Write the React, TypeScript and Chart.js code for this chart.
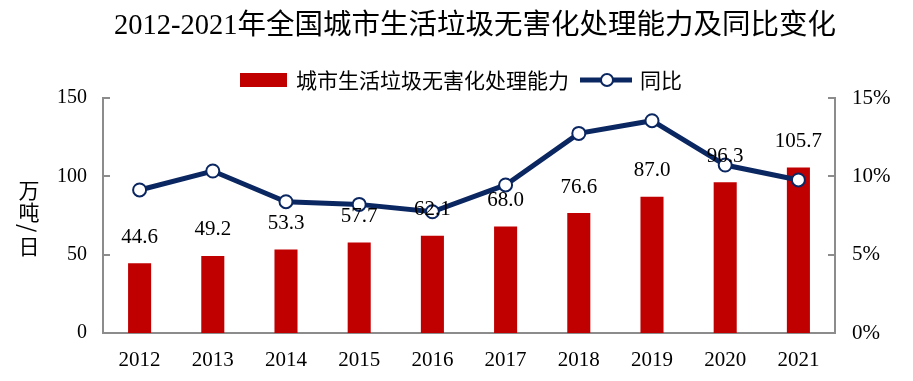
import React, { useEffect, useRef } from 'react';
import { Chart, registerables } from 'chart.js';

Chart.register(...registerables);

const years = ['2012', '2013', '2014', '2015', '2016', '2017', '2018', '2019', '2020', '2021'];
const capacity = [44.6, 49.2, 53.3, 57.7, 62.1, 68.0, 76.6, 87.0, 96.3, 105.7];
const yoy = [9.13, 10.34, 8.38, 8.21, 7.74, 9.45, 12.74, 13.55, 10.72, 9.77];
const leftTicks = [0, 50, 100, 150];
const rightTicks = [0, 5, 10, 15];
const titleText = '2012-2021年全国城市生活垃圾无害化处理能力及同比变化';
const barLabel = '城市生活垃圾无害化处理能力';
const lineLabel = '同比';
const yTitleChars = ['万', '吨', '/', '日'];

const RED = '#C00000';
const NAVY = '#0B2762';
const AXIS = '#8C8C8C';
const SERIF = '"Liberation Serif", "Times New Roman", "Noto Sans CJK SC", serif';
const SANS = '"Noto Sans CJK SC", "Noto Sans", sans-serif';

const decorPlugin = {
  id: 'decor',
  afterDraw(chart: any) {
    const ctx = chart.ctx;
    const area = chart.chartArea;
    ctx.save();
    ctx.setTransform(1, 0, 0, 1, 0, 0);
    // inward tick marks
    ctx.strokeStyle = AXIS;
    ctx.lineWidth = 2;
    const ys = chart.scales.y;
    leftTicks.forEach((v) => {
      const py = Math.round(ys.getPixelForValue(v));
      ctx.beginPath();
      ctx.moveTo(area.left, py);
      ctx.lineTo(area.left + 7, py);
      ctx.stroke();
    });
    const ys1 = chart.scales.y1;
    rightTicks.forEach((v) => {
      const py = Math.round(ys1.getPixelForValue(v));
      ctx.beginPath();
      ctx.moveTo(area.right, py);
      ctx.lineTo(area.right - 7, py);
      ctx.stroke();
    });

    // title
    ctx.fillStyle = '#000';
    ctx.font = `28.5px ${SERIF}`;
    ctx.textAlign = 'center';
    ctx.textBaseline = 'middle';
    ctx.fillText(titleText, 475, 27);

    // legend
    const ly = 80;
    ctx.fillStyle = RED;
    ctx.fillRect(240, 73, 47, 14);
    ctx.fillStyle = '#000';
    ctx.font = `21px ${SANS}`;
    ctx.textAlign = 'left';
    ctx.fillText(barLabel, 296, ly);
    ctx.strokeStyle = NAVY;
    ctx.lineWidth = 5;
    ctx.beginPath();
    ctx.moveTo(580, ly);
    ctx.lineTo(632, ly);
    ctx.stroke();
    ctx.beginPath();
    ctx.arc(607, ly, 6, 0, Math.PI * 2);
    ctx.fillStyle = '#fff';
    ctx.fill();
    ctx.lineWidth = 2;
    ctx.stroke();
    ctx.fillStyle = '#000';
    ctx.fillText(lineLabel, 640, ly);

    // bar value labels
    ctx.textAlign = 'center';
    ctx.font = `21px ${SERIF}`;
    const meta = chart.getDatasetMeta(1);
    meta.data.forEach((bar: any, i: number) => {
      ctx.fillText(capacity[i].toFixed(1), bar.x, bar.y - 26);
    });
    ctx.restore();
  },
};

export default function App() {
  const ref = useRef<HTMLCanvasElement | null>(null);
  useEffect(() => {
    if (!ref.current) return;
    const chart = new Chart(ref.current, {
      type: 'bar',
      data: {
        labels: years,
        datasets: [
          {
            type: 'line',
            label: lineLabel,
            data: yoy,
            yAxisID: 'y1',
            borderColor: NAVY,
            borderWidth: 5,
            pointRadius: 6.5,
            pointBackgroundColor: '#fff',
            pointBorderColor: NAVY,
            pointBorderWidth: 2,
            tension: 0,
            order: 0,
          } as any,
          {
            type: 'bar',
            label: barLabel,
            data: capacity,
            yAxisID: 'y',
            backgroundColor: RED,
            barPercentage: 0.315,
            categoryPercentage: 1,
            order: 1,
          } as any,
        ],
      },
      options: {
        responsive: false,
        animation: false,
        devicePixelRatio: 1,
        layout: { padding: { top: 98, left: 0, right: 0, bottom: 0 } },
        plugins: { legend: { display: false }, tooltip: { enabled: false }, title: { display: false } },
        scales: {
          x: {
            grid: { display: false, drawTicks: false },
            border: { display: true, color: AXIS, width: 2 },
            ticks: { color: '#000', font: { size: 21, family: SERIF }, padding: 15 },
            afterFit: (s: any) => { s.height = 48; },
          },
          y: {
            position: 'left',
            min: 0,
            max: 150,
            grid: { display: false, drawTicks: false },
            border: { display: true, color: AXIS, width: 2 },
            ticks: { stepSize: 50, color: '#000', font: { size: 20, family: SERIF }, padding: 16 },
            afterFit: (s: any) => { s.width = 103; },
          },
          y1: {
            position: 'right',
            min: 0,
            max: 15,
            grid: { display: false, drawTicks: false },
            border: { display: true, color: AXIS, width: 2 },
            ticks: { stepSize: 5, color: '#000', font: { size: 21, family: SERIF }, padding: 17, callback: (v: any) => v + '%' },
            afterFit: (s: any) => { s.width = 78; },
          },
        },
      },
      plugins: [decorPlugin],
    });
    return () => chart.destroy();
  }, []);
  return (
    <div style={{ position: 'absolute', left: 0, top: 0, width: 913, height: 381, background: '#fff' }}>
      <canvas ref={ref} width={913} height={381} style={{ display: 'block' }} />
      <div
        style={{
          position: 'absolute',
          left: 18,
          top: 178,
          width: 22,
          fontFamily: SANS,
          fontSize: 21,
          lineHeight: '22px',
          textAlign: 'center',
          color: '#000',
        }}
      >
        {yTitleChars.map((ch, i) =>
          ch === '/' ? (
            <div key={i} style={{ transform: 'rotate(90deg)', height: 12, lineHeight: '12px' }}>{ch}</div>
          ) : (
            <div key={i}>{ch}</div>
          )
        )}
      </div>
    </div>
  );
}
